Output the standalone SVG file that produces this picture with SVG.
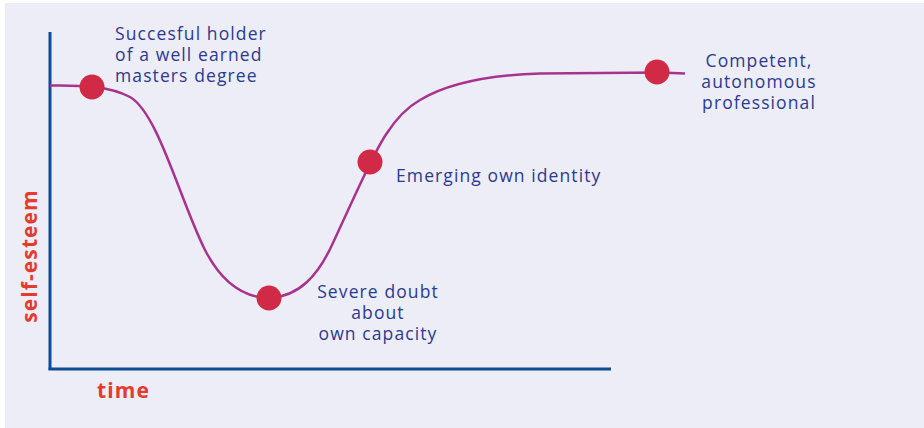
<svg xmlns="http://www.w3.org/2000/svg" width="924" height="428" viewBox="0 0 924 428">
<style>
.lbl{font-family:"Open Sans","Liberation Sans",sans-serif;font-size:17.5px;letter-spacing:1.1px;fill:#2B3A90}
.ax{font-family:"Open Sans","Liberation Sans",sans-serif;font-size:21px;font-weight:bold;letter-spacing:1.1px;fill:#E33B2E}
.dot{fill:#D12A47}
</style>
<rect x="0" y="0" width="924" height="428" fill="#FFFFFF"/>
<rect x="5" y="3" width="919" height="425" fill="#EDEDF7"/>
<g id="axes" fill="none" stroke="#0D4C92" stroke-width="3">
<line x1="50" y1="32" x2="50" y2="370"/>
<line x1="48.5" y1="369" x2="611" y2="369"/>
</g>
<g id="connectors">
<path d="M50,85.5 C80,85 110,86 130,97 C158,113 180,200 205,250 C222,283 245,298 270,298 C300,296 318,275 332,245 L356,193 C372,160 388,118 420,100 C450,82 490,75 540,73.5 L660,72.5 L685,73.5" fill="none" stroke="#A8338F" stroke-width="2.5"/>
</g>
<g id="node-start"><circle class="dot" cx="92" cy="87" r="12.5"/><text class="lbl" x="115"><tspan x="115" y="40">Succesful holder</tspan><tspan x="115" y="61">of a well earned</tspan><tspan x="115" y="82">masters degree</tspan></text></g>
<g id="node-doubt"><circle class="dot" cx="269" cy="298" r="12.5"/><text class="lbl" text-anchor="middle"><tspan x="378" y="298">Severe doubt</tspan><tspan x="378" y="319">about</tspan><tspan x="378" y="340">own capacity</tspan></text></g>
<g id="node-identity"><circle class="dot" cx="370" cy="162" r="12.5"/><text class="lbl" x="396" y="182">Emerging own identity</text></g>
<g id="node-competent"><circle class="dot" cx="657" cy="72" r="12.5"/><text class="lbl" text-anchor="middle"><tspan x="759" y="67">Competent,</tspan><tspan x="759" y="88">autonomous</tspan><tspan x="759" y="109">professional</tspan></text></g>
<text class="ax" x="97" y="398">time</text>
<text class="ax" transform="translate(37,256) rotate(-90)" text-anchor="middle">self-esteem</text>
</svg>
